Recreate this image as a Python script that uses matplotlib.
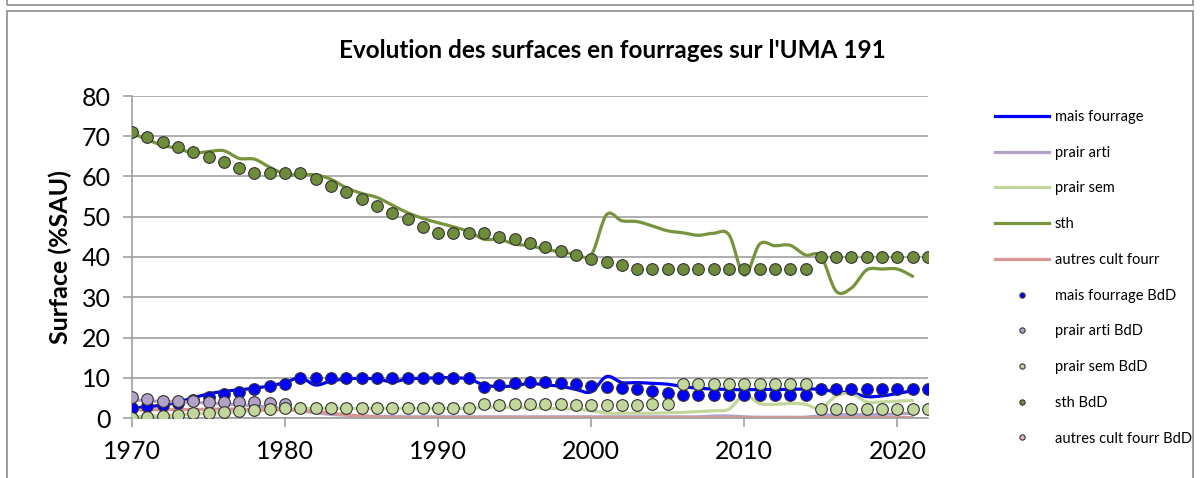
import numpy as np
import matplotlib
matplotlib.use('Agg')
import matplotlib.pyplot as plt
from matplotlib.path import Path
from matplotlib.patches import PathPatch, Rectangle
from matplotlib.lines import Line2D

plt.rcParams['font.family'] = ['Lato', 'DejaVu Sans']

# Data (% of SAU)
years_line = list(range(1970, 2022))
years_bdd = list(range(1970, 2023))

mais_fourrage = [2.4, 2.8, 3.2, 4.0, 5.0, 6.0, 6.6, 7.0, 7.4, 8.0, 8.8,
                 10.0, 8.2, 9.2, 9.7, 9.85, 9.7, 9.0, 9.7, 9.85, 10.0,
                 10.0, 9.7, 8.2, 7.8, 8.0, 8.6, 8.2, 7.9, 7.1, 6.5,
                 10.3, 8.8, 8.8, 8.6, 8.4, 7.8, 7.4, 7.2, 7.1, 7.0,
                 7.1, 7.1, 7.1, 7.2, 7.1, 6.5, 6.3, 5.3, 5.5, 6.1, 6.8]
prair_arti = [4.5, 4.3, 4.1, 4.0, 3.9, 3.7, 3.5, 3.3, 3.0, 2.7, 2.3,
              1.8, 1.3, 0.9, 0.7, 0.5, 0.4, 0.35] + [0.3] * 20 + \
             [0.5, 0.5, 0.3, 0.2, 0.2, 0.2, 0.2,
              0.6, 0.8, 0.8, 0.8, 0.9, 1.0, 1.2]
prair_sem = [0.3, 0.4, 0.6, 0.8, 1.0, 1.2, 1.4, 1.6, 1.8, 2.0, 2.2,
             2.3] + [2.4] * 11 + \
            [2.6, 2.7, 2.6, 2.5, 2.4, 2.3, 2.2, 1.8, 1.2, 1.2, 1.2, 1.2,
             1.3, 1.4, 1.6, 1.8, 2.2,
             5.7, 3.6, 3.4, 3.6, 3.4, 2.3, 5.5, 6.0, 4.0, 4.0, 4.2, 4.3]
sth = [70.7, 69.2, 67.7, 67.0, 65.8, 66.2, 66.4, 64.5, 64.3, 62.3, 60.6,
       60.4, 60.4, 59.3, 57.2, 55.8, 54.8, 52.9, 51.0, 49.6, 48.5,
       47.5, 46.3, 44.4, 44.4, 43.2, 42.8, 41.9, 41.3, 40.7, 40.5,
       50.5, 49.0, 48.8, 47.7, 46.5, 46.0, 45.4, 45.9, 45.5, 35.5,
       43.2, 42.8, 42.9, 40.5, 40.2, 31.5, 32.3, 36.8, 37.0, 37.0, 35.2]
autres = [2.0, 2.0, 2.1, 2.1, 2.1, 2.2, 2.2, 2.2, 2.1, 2.0, 2.0,
          1.9, 1.6, 1.2, 0.8, 0.5, 0.3, 0.15] + [0.1] * 34

mais_bdd = [2.6, 3.0, 3.2, 3.8, 4.5, 5.3, 5.9, 6.5, 7.1, 7.9, 8.4] + \
           [10.0] * 12 + \
           [7.8, 8.2, 8.8, 9.0, 9.0, 8.8, 8.4, 8.0, 7.7, 7.4, 7.3, 6.8, 6.1] + \
           [5.8] * 9 + [7.1] * 8
prair_arti_bdd = [5.3, 4.6, 4.3, 4.3, 4.2, 4.05, 4.05, 4.05, 3.9, 3.8, 3.6] + \
                 [np.nan] * 42
prair_sem_bdd = [0.1, 0.2, 0.5, 0.75, 1.2, 1.3, 1.6, 1.7, 2.0, 2.2, 2.6] + \
                [2.6] * 12 + \
                [3.4, 3.3, 3.4, 3.4, 3.4, 3.4, 3.3, 3.2, 3.2, 3.2, 3.3, 3.6, 3.6] + \
                [8.4] * 9 + [2.2] * 8
sth_bdd = [71.1, 69.9, 68.5, 67.3, 66.0, 64.8, 63.5, 62.2, 60.9, 60.9, 60.9,
           60.9, 59.4, 57.7, 56.1, 54.3, 52.7, 51.0, 49.4, 47.5, 46.0,
           46.0, 46.0, 46.0, 45.0, 44.4, 43.4, 42.6, 41.6, 40.5, 39.5,
           38.8, 38.0, 37.0] + [37.0] * 11 + [40.0] * 8
autres_bdd = [np.nan] * 53

line_series = [
    ('mais fourrage', mais_fourrage, '#0000FF'),
    ('prair arti', prair_arti, '#B3A2C7'),
    ('prair sem', prair_sem, '#C3D69B'),
    ('sth', sth, '#77933C'),
    ('autres cult fourr', autres, '#D99694'),
]
dot_series = [
    ('mais fourrage BdD', mais_bdd, '#0000FF'),
    ('prair arti BdD', prair_arti_bdd, '#B3A2C7'),
    ('prair sem BdD', prair_sem_bdd, '#C3D69B'),
    ('sth BdD', sth_bdd, '#6F8C3A'),
    ('autres cult fourr BdD', autres_bdd, '#E6B9B8'),
]


def smooth_path(x, y):
    # Excel-like smoothed line (cubic bezier, catmull-rom control points)
    n = len(x)
    verts = [(x[0], y[0])]
    codes = [Path.MOVETO]
    for i in range(n - 1):
        a = i - 1 if i > 0 else i
        b = i + 2 if i + 2 < n else i + 1
        c1 = (x[i] + (x[i + 1] - x[a]) / 6, y[i] + (y[i + 1] - y[a]) / 6)
        c2 = (x[i + 1] - (x[b] - x[i]) / 6, y[i + 1] - (y[b] - y[i]) / 6)
        verts += [c1, c2, (x[i + 1], y[i + 1])]
        codes += [Path.CURVE4] * 3
    return Path(verts, codes)


fig = plt.figure(figsize=(12, 4.78), dpi=100)
ax = fig.add_axes([132 / 1200, 1 - 418 / 478, 796 / 1200, 322 / 478])

grid_col = '#A0A0A0'
handles = []
for label, vals, col in line_series:
    p = PathPatch(smooth_path(years_line, vals), facecolor='none', edgecolor=col,
                  lw=2.3, capstyle='round', joinstyle='round', zorder=2)
    ax.add_patch(p)
    handles.append(Line2D([], [], color=col, lw=2.3, label=label))

for label, vals, col in dot_series:
    ax.plot(years_bdd, vals, linestyle='none', marker='o', ms=8.4,
            mfc=col, mec='#333333', mew=0.8, zorder=3)
    handles.append(Line2D([], [], linestyle='none', marker='o', ms=8.4,
                          mfc=col, mec='#333333', mew=0.8, label=label))

ax.set_xlim(1970, 2022)
ax.set_ylim(0, 80)
ax.set_yticks(range(0, 81, 10))
ax.set_xticks(range(1970, 2021, 10))
ax.yaxis.grid(True, color=grid_col, lw=1.2)
ax.set_axisbelow(True)
for s in ['top', 'right']:
    ax.spines[s].set_visible(False)
for s in ['left', 'bottom']:
    ax.spines[s].set_color(grid_col)
    ax.spines[s].set_linewidth(1.2)
ax.tick_params(axis='both', colors=grid_col, length=6.5, width=1.2,
               labelsize=18, labelcolor='black')
ax.tick_params(axis='y', pad=9)
ax.tick_params(axis='x', pad=9)

ax.set_ylabel('Surface (%SAU)', fontsize=18, fontweight='bold', labelpad=7)
fig.text(612 / 1200, 1 - 50 / 478, "Evolution des surfaces en fourrages sur l'UMA 191",
         ha='center', va='center', fontsize=17.5, fontweight='bold')

fig.legend(handles=handles, loc='upper left', bbox_to_anchor=(995 / 1200, 1 - 110 / 478),
           frameon=False, fontsize=10.5, handlelength=3.7, handletextpad=0.4,
           labelspacing=1.49, borderpad=0, borderaxespad=0, markerscale=0.45,
           numpoints=1)

# chart frame
fig.patches.append(Rectangle((7 / 1200, -0.1), 1186 / 1200, 1 - 11 / 478 + 0.1,
                             transform=fig.transFigure, fill=False,
                             edgecolor='#8C8C8C', lw=1.2))
fig.patches.append(Rectangle((7 / 1200, 1 - 5 / 478), 1186 / 1200, 0.1,
                             transform=fig.transFigure, fill=False,
                             edgecolor='#8C8C8C', lw=1.2))

fig.savefig('out.png', dpi=100)
